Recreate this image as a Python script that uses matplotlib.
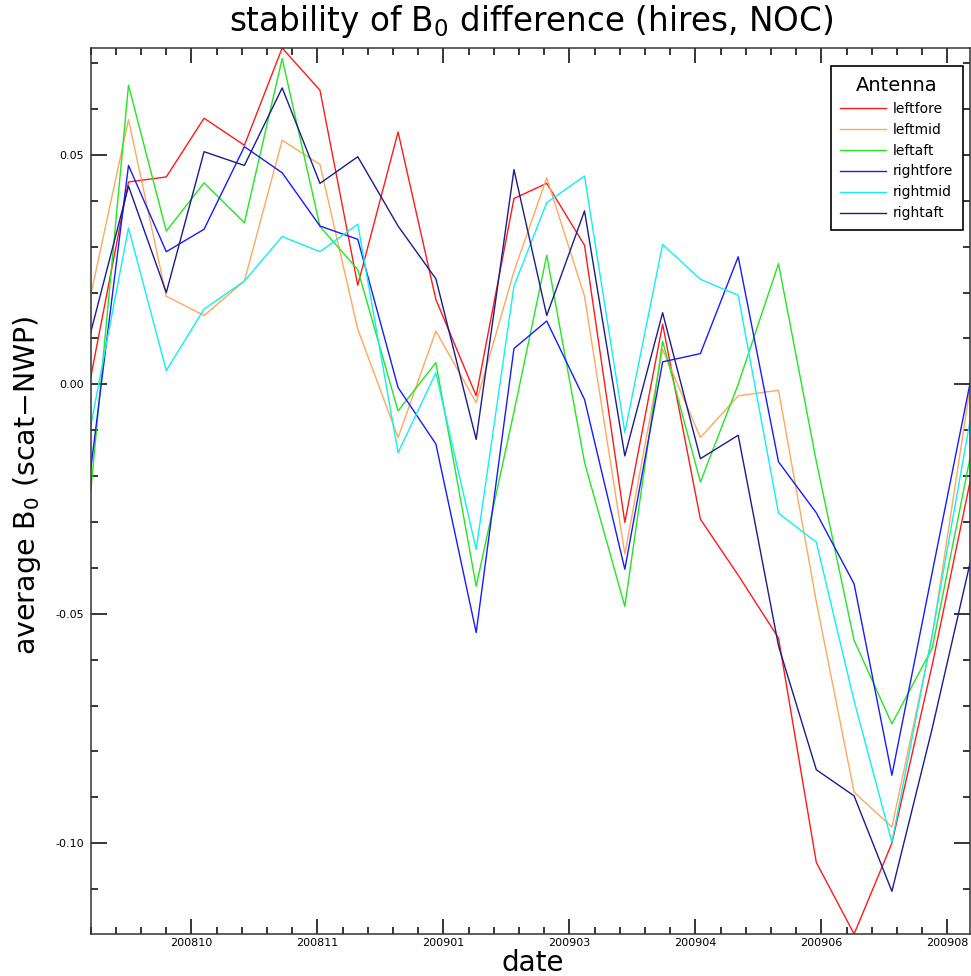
import matplotlib
matplotlib.use("Agg")
import matplotlib.pyplot as plt
import matplotlib.dates as mdates
from matplotlib.ticker import FixedLocator, MultipleLocator, FormatStrFormatter
import pandas as pd

# semi-monthly samples
dates = [
    "2008-09-01", "2008-09-16", "2008-10-01", "2008-10-16", "2008-11-01", "2008-11-16",
    "2008-12-01", "2008-12-16", "2009-01-01", "2009-01-16", "2009-02-01", "2009-02-16",
    "2009-03-01", "2009-03-16", "2009-04-01", "2009-04-16", "2009-05-01", "2009-05-16",
    "2009-06-01", "2009-06-16", "2009-07-01", "2009-07-16", "2009-08-01", "2009-08-16",
]

leftfore = [0.0015, 0.0441, 0.0452, 0.0580, 0.0521, 0.0733, 0.0641, 0.0216,
            0.0550, 0.0185, -0.0025, 0.0405, 0.0438, 0.0303, -0.0301, 0.0131,
            -0.0294, -0.0416, -0.0553, -0.1042, -0.1198, -0.1000, -0.0612, -0.0213]
leftmid = [0.0194, 0.0577, 0.0192, 0.0150, 0.0225, 0.0532, 0.0479, 0.0120,
           -0.0116, 0.0116, -0.0040, 0.0246, 0.0450, 0.0192, -0.0370, 0.0076,
           -0.0116, -0.0025, -0.0013, -0.0474, -0.0889, -0.0965, -0.0550, -0.0008]
leftaft = [-0.0235, 0.0652, 0.0334, 0.0439, 0.0352, 0.0710, 0.0344, 0.0250,
           -0.0058, 0.0047, -0.0440, -0.0060, 0.0281, -0.0170, -0.0484, 0.0094,
           -0.0213, 0.0000, 0.0263, -0.0168, -0.0558, -0.0740, -0.0575, -0.0161]
rightfore = [-0.0185, 0.0477, 0.0289, 0.0338, 0.0518, 0.0461, 0.0345, 0.0316,
             -0.0007, -0.0130, -0.0541, 0.0078, 0.0138, -0.0033, -0.0403, 0.0049,
             0.0067, 0.0278, -0.0169, -0.0280, -0.0435, -0.0852, -0.0410, 0.0002]
rightmid = [-0.0091, 0.0341, 0.0030, 0.0164, 0.0225, 0.0322, 0.0289, 0.0349,
            -0.0149, 0.0025, -0.0360, 0.0214, 0.0396, 0.0454, -0.0105, 0.0305,
            0.0229, 0.0194, -0.0281, -0.0344, -0.0690, -0.0998, -0.0545, -0.0080]
rightaft = [0.0113, 0.0432, 0.0200, 0.0507, 0.0477, 0.0646, 0.0438, 0.0496,
            0.0345, 0.0230, -0.0120, 0.0468, 0.0150, 0.0378, -0.0156, 0.0156,
            -0.0162, -0.0111, -0.0570, -0.0840, -0.0897, -0.1105, -0.0750, -0.0390]

names = ["leftfore", "leftmid", "leftaft", "rightfore", "rightmid", "rightaft"]
values = [leftfore, leftmid, leftaft, rightfore, rightmid, rightaft]
colors = ["#ff1a1a", "#ffa860", "#22e622", "#1a1aff", "#10f0f0", "#1c1c8c"]

x = pd.to_datetime(dates)

fig = plt.figure(figsize=(9.71, 9.76), dpi=100)
ax = fig.add_axes([90.7 / 971, 42 / 976, 879.3 / 971, 886 / 976])

for name, vals, col in zip(names, values, colors):
    ax.plot(x, vals, color=col, lw=1.0, label=name)

allv = [v for vals in values for v in vals]
ax.set_xlim(x[0], x[-1])
ax.set_ylim(min(allv), max(allv))

# IDL-like date ticks: majors every 50 days, minors every 10
majors = pd.date_range("2008-10-11", periods=7, freq="50D")
minors = pd.date_range("2008-09-01", "2009-08-16", freq="10D")
ax.xaxis.set_major_locator(FixedLocator(mdates.date2num(majors)))
ax.xaxis.set_minor_locator(FixedLocator(mdates.date2num(minors)))
ax.xaxis.set_major_formatter(mdates.DateFormatter("%Y%m"))
ax.yaxis.set_major_locator(MultipleLocator(0.05))
ax.yaxis.set_minor_locator(MultipleLocator(0.01))
ax.yaxis.set_major_formatter(FormatStrFormatter("%.2f"))

ax.tick_params(axis="x", which="major", direction="in", length=10.6, width=1.1,
               top=True, labelsize=8, pad=3)
ax.tick_params(axis="x", which="minor", direction="in", length=5, width=1.1, top=True)
ax.tick_params(axis="y", which="major", direction="in", length=11.5, width=1.1,
               right=True, labelsize=8, pad=5)
ax.tick_params(axis="y", which="minor", direction="in", length=5.3, width=1.1, right=True)
for sp in ax.spines.values():
    sp.set_linewidth(1.1)
    sp.set_color("#333333")

fig.text(531 / 971, 1 - 22 / 976, "stability of B$_0$ difference (hires, NOC)",
         ha="center", va="center", fontsize=23.5)
fig.text(533 / 971, 1 - 963 / 976, "date", ha="center", va="center", fontsize=20)
fig.text(27 / 971, 1 - 485 / 976, "average B$_0$ (scat\u2212NWP)", ha="center",
         va="center", rotation=90, fontsize=20.5)

leg = ax.legend(title="Antenna", loc="upper right",
                bbox_to_anchor=(963 / 971, 1 - 66 / 976), bbox_transform=fig.transFigure,
                fontsize=10, title_fontsize=14, fancybox=False, edgecolor="black",
                framealpha=1, handlelength=3.3, handletextpad=0.5, labelspacing=0.5,
                borderpad=0.7, borderaxespad=0)
leg.get_frame().set_linewidth(1.2)

fig.savefig("out.png", dpi=100)
